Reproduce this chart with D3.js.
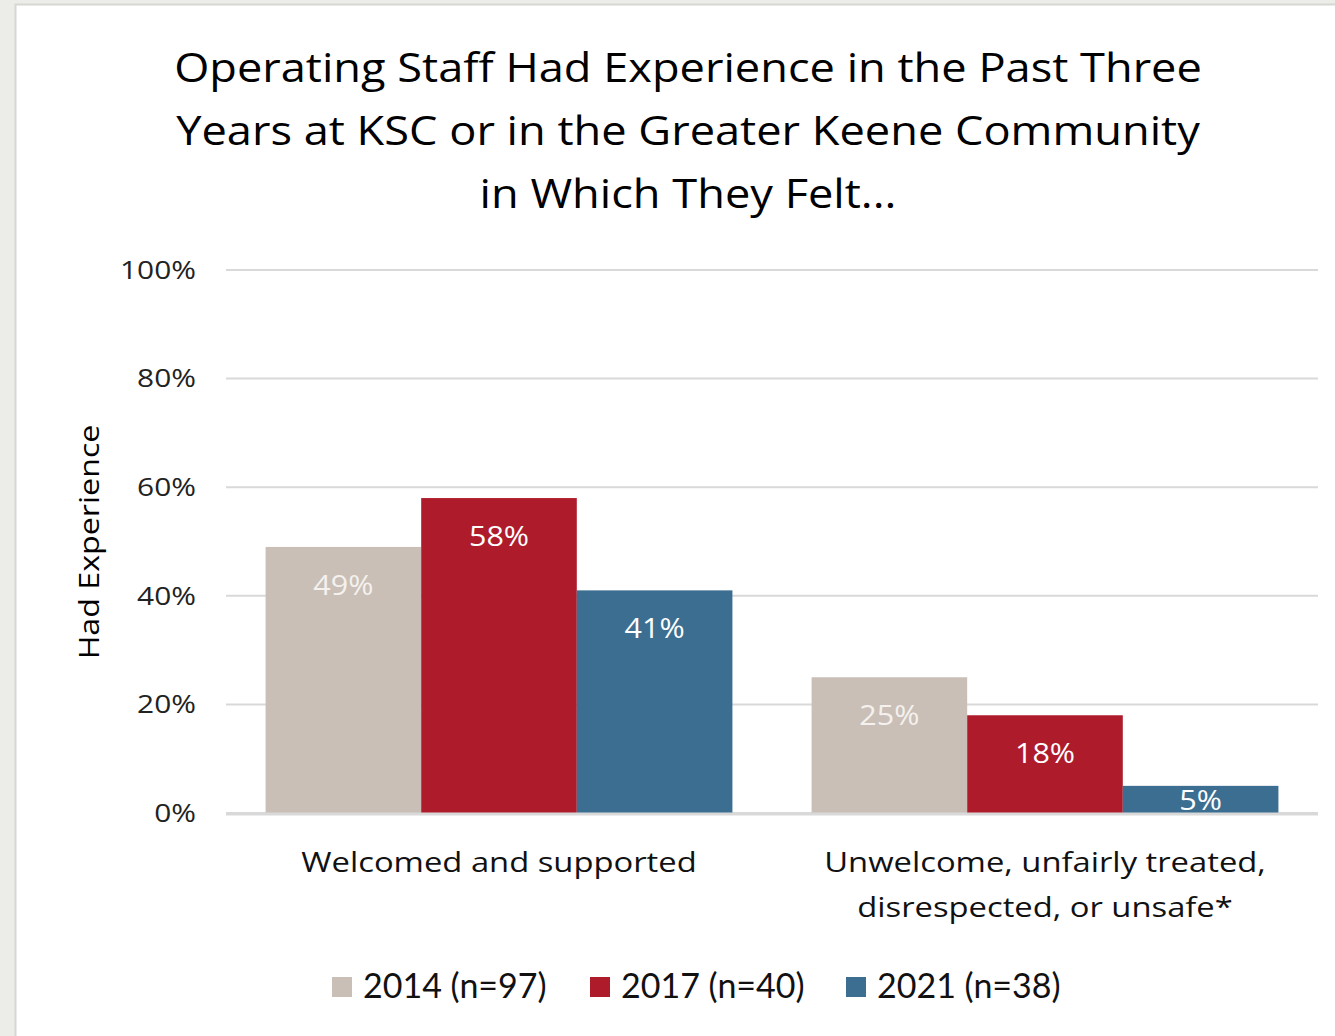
<!DOCTYPE html>
<html>
<head>
<meta charset="utf-8">
<script src="https://cdn.jsdelivr.net/npm/d3@7"></script>
<style>
	body { margin: 0; background: #ecece8; }
	svg { display: block; }
</style>
</head>
<body>
<svg id="chart" width="1335" height="1036"></svg>
<script>
	// Data
	var categories = [['Welcomed and supported'], ['Unwelcome, unfairly treated,', 'disrespected, or unsafe*']],
		seriesNames = ['2014 (n=97)', '2017 (n=40)', '2021 (n=38)'],
		seriesColors = ['#c9bfb7', '#ae1c2c', '#3c6e91'],
		values2014 = [49, 25],
		values2017 = [58, 18],
		values2021 = [41, 5],
		yTicks = [0, 20, 40, 60, 80, 100],
		titleLines = ['Operating Staff Had Experience in the Past Three', 'Years at KSC or in the Greater Keene Community', 'in Which They Felt...'];

	var series = [values2014, values2017, values2021];

	var svg = d3.select('#chart'),
		font = "'Open Sans', 'Noto Sans', sans-serif";

	// the source picture is stretched sideways, so most text gets a horizontal scale
	function stretched(sel, x, y, sx) {
		return sel.append('g').attr('transform', 'translate(' + x + ',' + y + ') scale(' + sx + ',1)');
	}

	// panel
	svg.append('rect')
		.attr('x', 15.5).attr('y', 4.5)
		.attr('width', 1330).attr('height', 1040)
		.style('fill', '#fff').style('stroke', '#d6d6d2').style('stroke-width', 2);

	// Scales
	var margin = { left: 226, right: 1318, top: 270, bottom: 813 };
	var x0 = d3.scaleBand()
		.domain(d3.range(categories.length))
		.range([margin.left, margin.right])
		.paddingInner(0.145).paddingOuter(0.0725);
	var x1 = d3.scaleBand()
		.domain(d3.range(series.length))
		.range([0, x0.bandwidth()]);
	var y = d3.scaleLinear().domain([0, 100]).range([margin.bottom, margin.top]);

	// Title
	stretched(svg, 688, 82, 1.13).append('text')
		.style('font-family', font).style('font-size', '40px').style('fill', '#000')
		.attr('text-anchor', 'middle')
		.selectAll('tspan').data(titleLines).enter().append('tspan')
			.attr('x', 0)
			.attr('dy', function(d, i) { return i ? 63 : 0; })
			.text(function(d) { return d; });

	// Gridlines
	svg.append('g').selectAll('line').data(yTicks).enter().append('line')
		.attr('x1', margin.left).attr('x2', margin.right)
		.attr('y1', function(d) { return y(d); })
		.attr('y2', function(d) { return y(d); })
		.style('stroke', '#d9d9d9').style('stroke-width', 2);

	// Y axis
	var yAxis = d3.axisLeft(y).tickValues(yTicks).tickSize(0).tickPadding(0)
		.tickFormat(function(d) { return d + '%'; });
	var ya = svg.append('g').attr('transform', 'translate(196,0)').call(yAxis);
	ya.select('.domain').remove();
	ya.selectAll('text')
		.attr('x', 0)
		.attr('transform', 'scale(1.15,1)')
		.style('font-family', font).style('font-size', '26px').style('fill', '#222');

	svg.append('text')
		.attr('transform', 'translate(99,542) rotate(-90) scale(1.15,1)')
		.attr('text-anchor', 'middle')
		.style('font-family', font).style('font-size', '28px').style('fill', '#000')
		.text('Had Experience');

	// Bars
	var groups = svg.append('g').selectAll('g.series').data(series).enter().append('g')
		.attr('class', 'series')
		.style('fill', function(d, i) { return seriesColors[i]; });

	groups.each(function(vals, si) {
		var g = d3.select(this);
		g.selectAll('rect').data(vals).enter().append('rect')
			.attr('x', function(d, ci) { return x0(ci) + x1(si); })
			.attr('y', function(d) { return y(d); })
			.attr('width', x1.bandwidth())
			.attr('height', function(d) { return y(0) - y(d); });
		vals.forEach(function(d, ci) {
			stretched(g, x0(ci) + x1(si) + x1.bandwidth() / 2, Math.min(y(d) + 48, y(0) - 3), 1.13)
				.append('text')
				.attr('text-anchor', 'middle')
				.style('font-family', font).style('font-size', '27px')
				.style('fill', si === 0 ? '#f4f1ee' : '#fff')
				.text(d + '%');
		});
	});

	// baseline
	svg.append('line')
		.attr('x1', margin.left).attr('x2', margin.right)
		.attr('y1', y(0) + 1).attr('y2', y(0) + 1)
		.style('stroke', '#d9d9d9').style('stroke-width', 3);

	// Category labels
	categories.forEach(function(lines, ci) {
		stretched(svg, x0(ci) + x0.bandwidth() / 2, 872, 1.17).append('text')
			.attr('text-anchor', 'middle')
			.style('font-family', font).style('font-size', '28px').style('fill', '#111')
			.selectAll('tspan').data(lines).enter().append('tspan')
				.attr('x', 0)
				.attr('y', function(d, i) { return i * 45; })
				.text(function(d) { return d; });
	});

	// Legend
	var legendX = [332, 590, 846];
	var leg = svg.append('g').selectAll('g').data(seriesNames).enter().append('g')
		.attr('transform', function(d, i) { return 'translate(' + legendX[i] + ',977)'; });
	leg.append('rect')
		.attr('width', 20).attr('height', 20)
		.style('fill', function(d, i) { return seriesColors[i]; });
	leg.append('text')
		.attr('x', 31).attr('y', 21)
		.style('font-family', "Lato, 'Liberation Sans Narrow', sans-serif").style('font-size', '34px').style('fill', '#111')
		.text(function(d) { return d; });
</script>
</body>
</html>
